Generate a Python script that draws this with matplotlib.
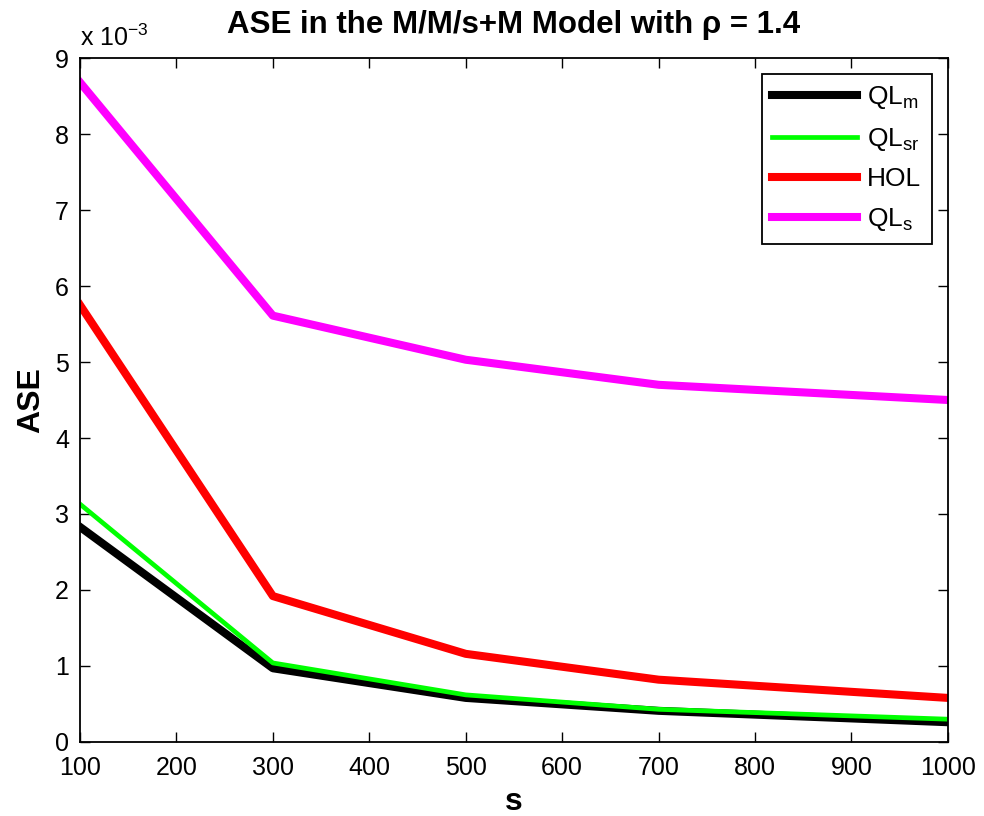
import numpy as np
import matplotlib.pyplot as plt
from matplotlib.ticker import FuncFormatter

plt.rcParams['font.family'] = ['Liberation Sans', 'DejaVu Sans']
plt.rcParams['mathtext.fontset'] = 'custom'
plt.rcParams['mathtext.rm'] = 'Liberation Sans'
plt.rcParams['mathtext.it'] = 'Liberation Sans'

s = [100, 300, 500, 700, 1000]
# values in units of 1e-3
ql_m = [2.83, 0.97, 0.58, 0.41, 0.26]
ql_sr = [3.13, 1.04, 0.62, 0.43, 0.30]
hol = [5.75, 1.92, 1.16, 0.82, 0.58]
ql_s = [8.68, 5.61, 5.03, 4.70, 4.50]
scale = 1e-3

fig = plt.figure(figsize=(9.84, 8.16), dpi=100)
ax = fig.add_axes([0.0813, 0.0907, 0.882, 0.8382])

ax.plot(s, np.array(ql_m) * scale, color='black', lw=5.8, label='QL$_\\mathregular{m}$')
ax.plot(s, np.array(ql_sr) * scale, color='#00ff00', lw=3.4, label='QL$_\\mathregular{sr}$')
ax.plot(s, np.array(hol) * scale, color='red', lw=5.8, label='HOL')
ax.plot(s, np.array(ql_s) * scale, color='magenta', lw=5.8, label='QL$_\\mathregular{s}$')

ax.set_xlim(100, 1000)
ax.set_ylim(0, 9e-3)
ax.set_xticks(np.arange(100, 1001, 100))
ax.set_yticks(np.arange(0, 9.5, 1) * scale)
ax.yaxis.set_major_formatter(FuncFormatter(lambda v, p: f"{v / scale:.0f}"))
ax.tick_params(direction='in', top=True, right=True, labelsize=18, length=7, width=1)
ax.tick_params(axis='x', pad=10)
ax.tick_params(axis='y', pad=8)
for sp in ax.spines.values():
    sp.set_linewidth(1.3)

ax.set_xlabel('s', fontsize=23, fontweight='bold', labelpad=5)
ax.set_ylabel('ASE', fontsize=23, fontweight='bold', labelpad=6)
ax.set_title('ASE in the M/M/s+M Model with \u03c1 = 1.4', fontsize=22.5, fontweight='bold', pad=18)
ax.text(0.0, 1.01, 'x 10$^{\\mathregular{-3}}$', transform=ax.transAxes, fontsize=18, va='bottom', ha='left')

leg = ax.legend(loc='upper right', fontsize=19, handlelength=3.2, borderpad=0.4,
                labelspacing=0.55, handletextpad=0.4, fancybox=False, framealpha=1,
                borderaxespad=0.6)
leg.get_frame().set_edgecolor('black')
leg.get_frame().set_linewidth(1.3)

fig.savefig('out.png', dpi=100)
